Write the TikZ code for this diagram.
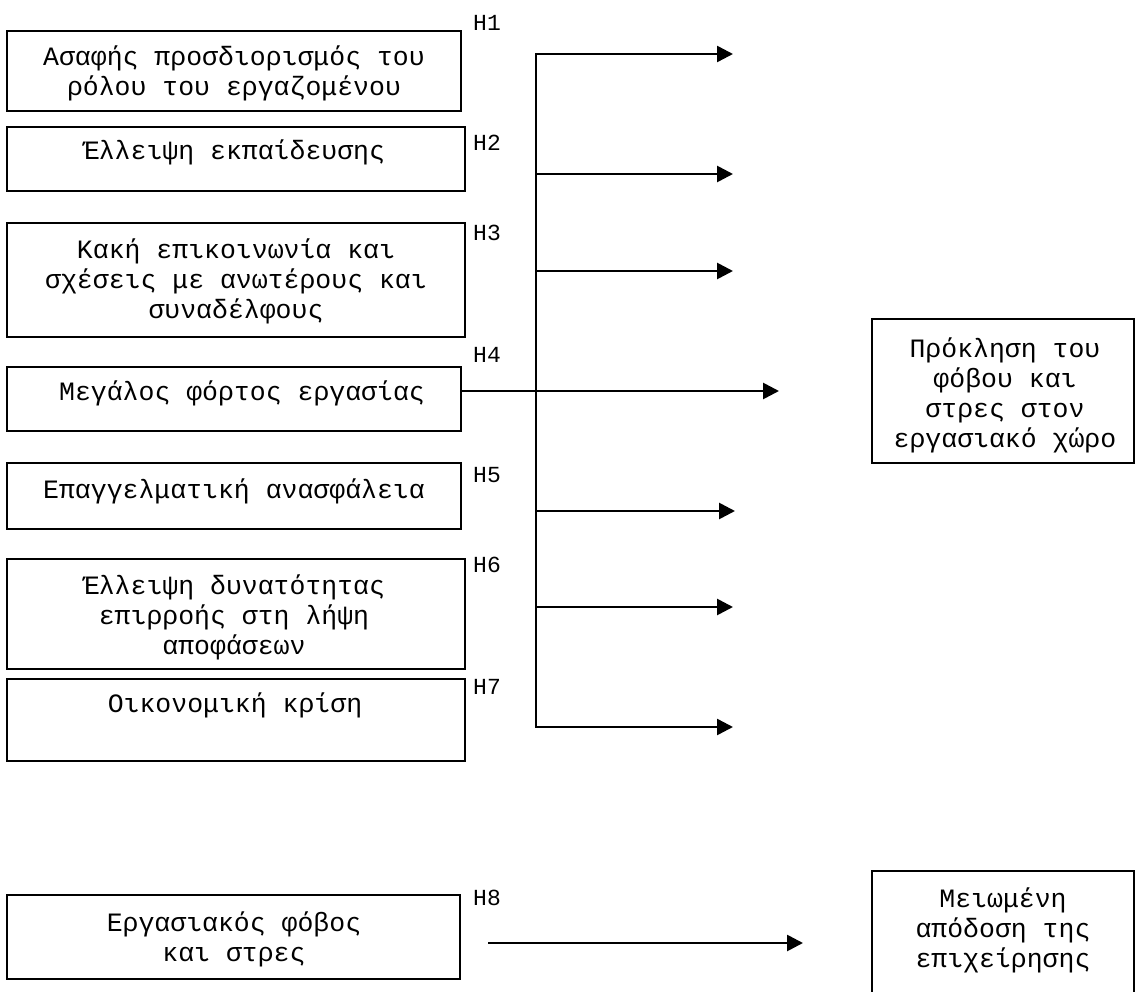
\documentclass[tikz,border=0pt]{standalone}
\usepackage{fontspec}
\newfontfamily\monof{Liberation Mono}
\usetikzlibrary{arrows.meta}
\tikzset{
  box/.style={draw, line width=1.8pt, inner sep=0pt},
  txt/.style={font=\monof\fontsize{26.5}{30}\selectfont, align=center, inner sep=0pt},
  hlbl/.style={font=\monof\fontsize{23}{25}\selectfont, inner sep=0pt},
  arr/.style={line width=2.7pt, -{Triangle[length=16pt,width=16pt]}},
  arrtwo/.style={line width=2.5pt, {Triangle[length=16pt,width=16pt]}-{Triangle[length=16pt,width=16pt]}},
}
\begin{document}
\begin{tikzpicture}[x=1pt,y=-1pt]
\clip (0,0) rectangle (1135,992);
\fill[white] (0,0) rectangle (1135,992);
% boxes
\node[box, minimum width=454pt, minimum height=80pt] (b1) at (234,71) {};
\node[box, minimum width=458pt, minimum height=64pt] (b2) at (236,159) {};
\node[box, minimum width=458pt, minimum height=114pt] (b3) at (236,280) {};
\node[box, minimum width=454pt, minimum height=64pt] (b4) at (234,399) {};
\node[box, minimum width=454pt, minimum height=66pt] (b5) at (234,496) {};
\node[box, minimum width=458pt, minimum height=110pt] (b6) at (236,614) {};
\node[box, minimum width=458pt, minimum height=82pt] (b7) at (236,720) {};
\node[box, minimum width=453pt, minimum height=84pt] (b8) at (233.5,937) {};
\node[box, minimum width=262pt, minimum height=144pt] (br) at (1003,391) {};
\node[box, minimum width=262pt, minimum height=129pt] (bb) at (1003,935.5) {};
% texts
\node[txt] (t1) at (234,73) {Ασαφής προσδιορισμός του\\ρόλου του εργαζομένου};
\node[txt] (t2) at (234,152) {Έλλειψη εκπαίδευσης};
\node[txt] (t3) at (236,281) {Κακή επικοινωνία και\\σχέσεις με ανωτέρους και\\συναδέλφους};
\node[txt] (t4) at (242,393) {Μεγάλος φόρτος εργασίας};
\node[txt] (t5) at (234,491) {Επαγγελματική ανασφάλεια};
\node[txt] (t6) at (234,617) {Έλλειψη δυνατότητας\\επιρροής στη λήψη\\αποφάσεων};
\node[txt] (t7) at (235,705) {Οικονομική κρίση};
\node[txt] (t8) at (234,939) {Εργασιακός φόβος\\και στρες};
\node[txt] (tr) at (1005,395) {Πρόκληση του\\φόβου και\\στρες στον\\εργασιακό χώρο};
\node[txt] (tb) at (1003,930) {Μειωμένη\\απόδοση της\\επιχείρησης};
% H labels
\node[hlbl] (h1) at (487,23) {H1};
\node[hlbl] (h2) at (487,143) {H2};
\node[hlbl] (h3) at (487,233) {H3};
\node[hlbl] (h4) at (487,355) {H4};
\node[hlbl] (h5) at (487,475) {H5};
\node[hlbl] (h6) at (487,565) {H6};
\node[hlbl] (h7) at (487,687) {H7};
\node[hlbl] (h8) at (487,898) {H8};
% spine coordinates
\coordinate (s1) at (536,54);
\coordinate (s2) at (536,174);
\coordinate (s3) at (536,271);
\coordinate (s5) at (536,511);
\coordinate (s6) at (536,607);
\coordinate (s7) at (536,727);
\coordinate (e1) at (733,54);
\coordinate (e2) at (733,174);
\coordinate (e3) at (733,271);
\coordinate (e4) at (779,391);
\coordinate (e5) at (735,511);
\coordinate (e6) at (733,607);
\coordinate (e7) at (733,727);
\coordinate (f0) at (488,943);
\coordinate (f1) at (803,943);
% connectors
\draw[arrtwo] (e1) -- (s1) -- (s7) -- (e7);
\draw[arr] (s2) -- (e2);
\draw[arr] (s3) -- (e3);
\draw[arr] (b4.east |- e4) -- (e4);
\draw[arr] (s5) -- (e5);
\draw[arr] (s6) -- (e6);
\draw[arr] (f0) -- (f1);
\end{tikzpicture}
\end{document}
